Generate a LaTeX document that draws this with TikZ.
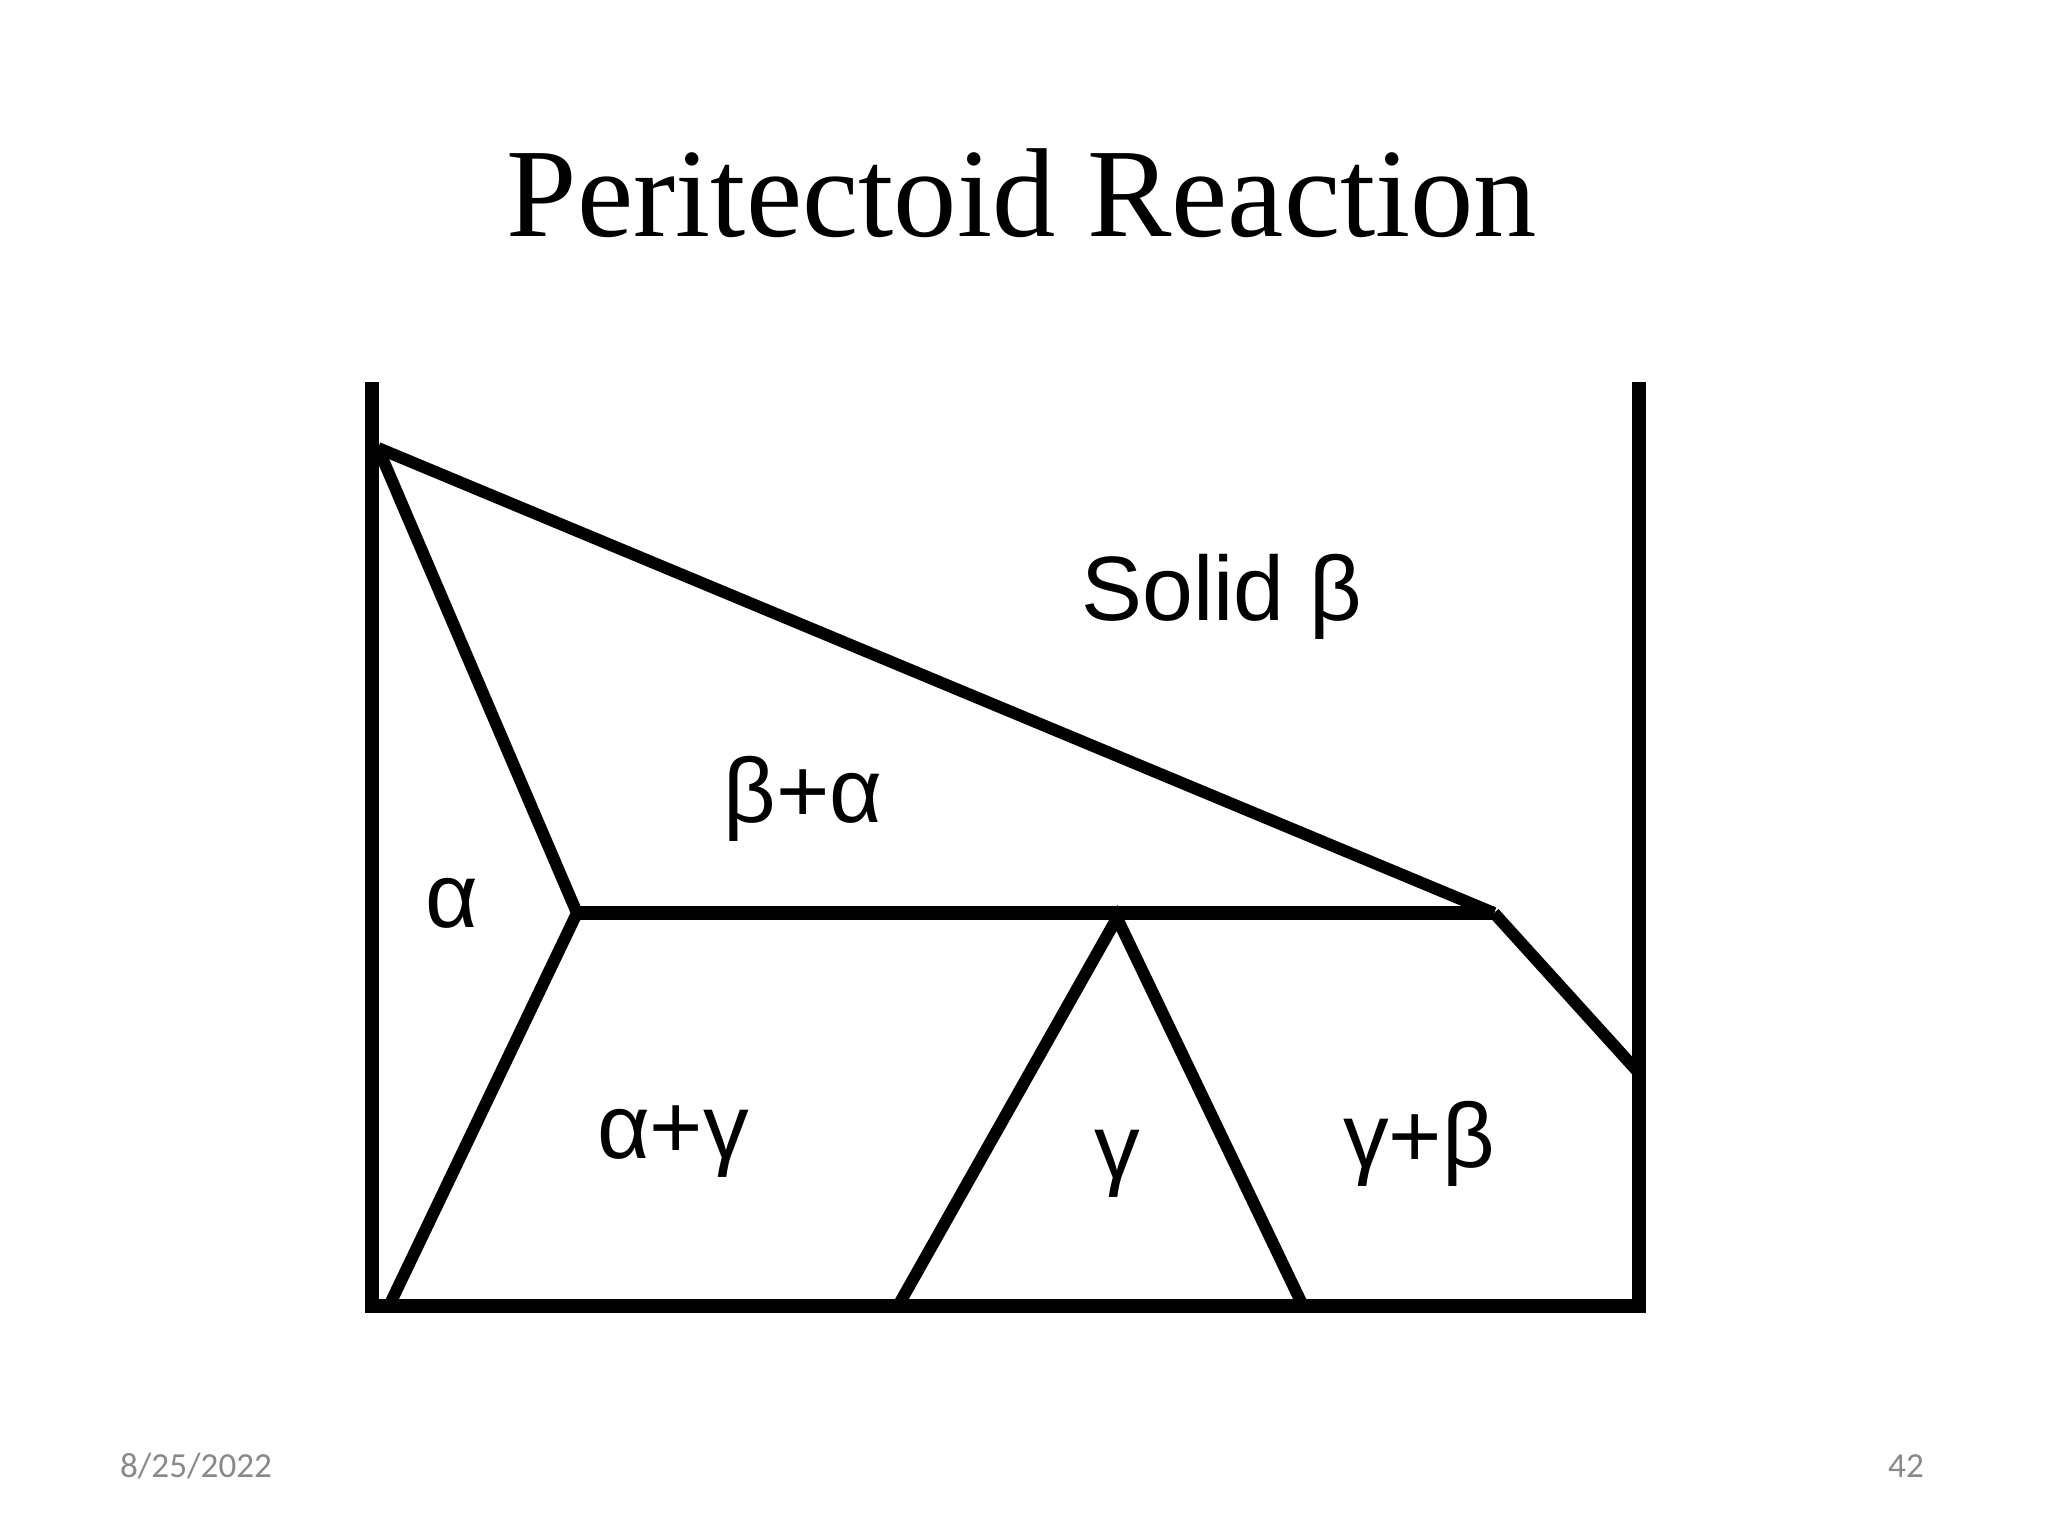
\documentclass[tikz,border=0pt]{standalone}
\usepackage{fontspec}
\setmainfont{Liberation Serif}
\newfontfamily\phasefont{Liberation Sans}
\newfontfamily\footfont{Carlito}
\usetikzlibrary{positioning}
\definecolor{footgray}{RGB}{137,137,137}
\tikzset{frame/.style = {line width = 4pt, line join = miter}}
\tikzset{phaseline/.style = {line width = 3.4pt, line join = miter}}
\tikzset{phase/.style = {font = \phasefont\fontsize{26}{26}\selectfont, inner sep = 0, anchor = base}}
\tikzset{foot/.style = {font = \footfont\fontsize{10}{10}\selectfont, text = footgray, inner sep = 0, anchor = base}}

\begin{document}
\begin{tikzpicture}[x = 0.01cm, y = -0.01cm]
  \useasboundingbox (0, 0) rectangle (2048, 1536);
  \node [anchor = base, inner sep = 0, font = \fontsize{36}{36}\selectfont] (title) at (1022, 236) {Peritectoid Reaction};
  % frame of the diagram
  \coordinate (lt) at (372, 382);
  \coordinate (lb) at (372, 1306);
  \coordinate (rb) at (1639, 1306);
  \coordinate (rt) at (1639, 382);
  \draw [frame] (lt) -- (lb) -- (rb) -- (rt);
  % phase boundaries
  \coordinate (top) at (378, 448);
  \coordinate (a) at (577, 913);
  \coordinate (p) at (1494, 913);
  \coordinate (g) at (1117, 918);
  \coordinate (ab) at (389, 1306);
  \coordinate (gl) at (898, 1306);
  \coordinate (gr) at (1303, 1306);
  \coordinate (r) at (1639, 1073);
  \draw [phaseline] (top) -- (p);
  \draw [phaseline] (top) -- (a) -- (ab);
  \draw [frame] (a) -- (p);
  \draw [phaseline] (p) -- (r);
  \draw [phaseline] (gl) -- (g) -- (gr);
  % phase labels
  \node [phase] (solid) at (1222, 620) {Solid β};
  \node [phase] (ba) at (803, 822) {β+α};
  \node [phase] (al) at (452, 927) {α};
  \node [phase] (ag) at (673, 1158) {α+γ};
  \node [phase] (ga) at (1117, 1178) {γ};
  \node [phase] (gb) at (1419, 1167) {γ+β};
  % footer
  \node [foot] (date) at (196, 1477) {8/25/2022};
  \node [foot] (page) at (1906, 1477) {42};
\end{tikzpicture}
\end{document}
